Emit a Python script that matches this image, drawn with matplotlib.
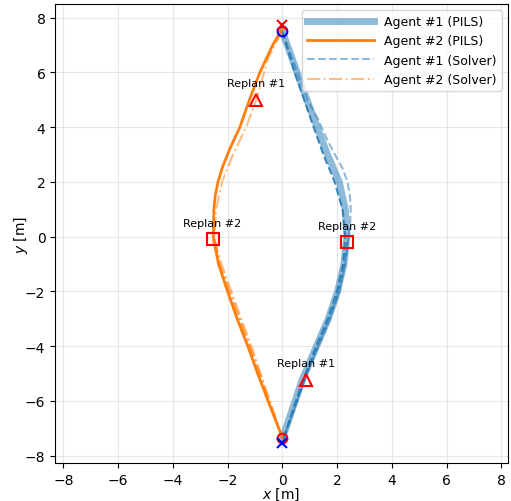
import numpy as np
import matplotlib
matplotlib.use("Agg")
import matplotlib.pyplot as plt

# agent 1 (PILS), top -> bottom
a1_y = [7.5, 6.0, 5.0, 4.3, 3.0, 2.0, 1.0, 0.0, -1.0, -2.0, -3.0, -4.0, -5.22, -6.0, -7.0, -7.4]
a1_x = [0.0, 0.54, 0.9, 1.16, 1.65, 2.08, 2.3, 2.36, 2.25, 2.02, 1.68, 1.25, 0.73, 0.47, 0.13, 0.0]

# agent 2 (PILS), bottom -> top
a2_y = [-7.35, -7.0, -6.0, -5.0, -4.0, -3.0, -2.0, -1.0, 0.0, 1.0, 1.5, 2.0, 2.56, 3.2, 4.0, 5.0, 6.0, 7.0, 7.6]
a2_x = [0.0, -0.13, -0.52, -0.9, -1.26, -1.65, -2.0, -2.33, -2.52, -2.5, -2.45, -2.35, -2.18, -1.92, -1.55, -1.2, -0.82, -0.35, 0.0]

# solver plans for agent 1
s1_y = [
    [7.5, 6.0, 5.0, 4.3, 3.0, 2.0, 1.0, 0.0, -1.0, -2.0, -3.0, -4.0, -5.0, -6.0, -7.5],
    [7.5, 6.0, 5.0, 4.3, 3.5, 3.0, 2.5, 2.0, 1.5, 1.0, 0.5, 0.0, -1.0, -2.0, -3.0, -4.0, -5.0, -6.0, -7.5],
    [-0.2, -1.0, -2.0, -3.0, -4.0, -5.0, -6.0, -7.5],
]
s1_x = [
    [0.0, 0.45, 0.8, 1.04, 1.5, 1.91, 2.2, 2.3, 2.22, 2.0, 1.66, 1.24, 0.85, 0.5, 0.0],
    [0.0, 0.55, 0.92, 1.3, 1.66, 1.92, 2.2, 2.38, 2.47, 2.5, 2.48, 2.42, 2.3, 2.06, 1.72, 1.3, 0.9, 0.54, 0.0],
    [2.37, 2.28, 2.08, 1.74, 1.32, 0.9, 0.55, 0.0],
]
s1_alpha = [0.85, 0.5, 0.6]

# solver plans for agent 2
s2_y = [
    [7.5, 6.52, 5.0, 4.0, 3.0, 2.56, 2.0, 1.0, 0.0, -1.0, -2.0, -3.0, -4.0, -5.0, -6.0, -7.35],
    [-0.1, -1.0, -2.0, -3.0, -4.0, -5.0, -6.0, -7.35],
    [-0.1, -1.0, -2.0, -3.0, -4.0, -5.0, -6.0, -7.35],
]
s2_x = [
    [0.0, -0.52, -0.95, -1.32, -1.8, -1.98, -2.2, -2.42, -2.48, -2.28, -1.92, -1.55, -1.18, -0.82, -0.48, 0.0],
    [-2.55, -2.3, -1.95, -1.58, -1.2, -0.85, -0.5, 0.0],
    [-2.5, -2.22, -1.86, -1.5, -1.13, -0.79, -0.45, 0.0],
]

# replan points
replan_tri_x = [-0.95, 0.88]
replan_tri_y = [5.0, -5.22]
replan_sq_x = [-2.55, 2.37]
replan_sq_y = [-0.1, -0.2]

fig = plt.figure(figsize=(5.11, 5.02), dpi=100)
ax = fig.add_axes([0.1076, 0.0751, 0.8865, 0.915])

ax.plot(a1_x, a1_y, color='tab:blue', alpha=0.5, lw=5, label='Agent #1 (PILS)', zorder=2)
ax.plot(a2_x, a2_y, color='tab:orange', lw=2, label='Agent #2 (PILS)', zorder=3)

for i in range(len(s1_x)):
    ax.plot(s1_x[i], s1_y[i], color='tab:blue', alpha=s1_alpha[i], ls='--', lw=1.5,
            label='Agent #1 (Solver)' if i == 1 else None, zorder=3)
for i in range(len(s2_x)):
    ax.plot(s2_x[i], s2_y[i], color='tab:orange', alpha=0.5, ls='-.', lw=1.5,
            label='Agent #2 (Solver)' if i == 0 else None, zorder=3)

# start / goal markers
ax.plot(0, 7.5, 'o', mfc='none', mec='blue', ms=7, mew=1.5, zorder=4)
ax.plot(0, 7.75, 'x', color='red', ms=7, mew=1.5, zorder=4)
ax.plot(0, -7.35, 'o', mfc='none', mec='red', ms=7, mew=1.5, zorder=4)
ax.plot(0, -7.55, 'x', color='blue', ms=7, mew=1.5, zorder=4)

ax.plot(replan_tri_x, replan_tri_y, '^', mfc='none', mec='red', ms=9, mew=1.5, ls='none', zorder=5)
ax.plot(replan_sq_x, replan_sq_y, 's', mfc='none', mec='red', ms=9, mew=1.5, ls='none', zorder=5)
for x, y in zip(replan_tri_x, replan_tri_y):
    ax.text(x, y + 0.6, 'Replan #1', fontsize=8, ha='center', va='center')
for x, y in zip(replan_sq_x, replan_sq_y):
    ax.text(x, y + 0.6, 'Replan #2', fontsize=8, ha='center', va='center')

ax.set_xlim(-8.3, 8.24)
ax.set_ylim(-8.28, 8.5)
ax.set_aspect('equal', adjustable='box')
ax.set_xticks(np.arange(-8, 9, 2))
ax.set_yticks(np.arange(-8, 9, 2))
ax.grid(True, alpha=0.3)
ax.set_xlabel('$x$ [m]', labelpad=-1)
ax.set_ylabel('$y$ [m]', labelpad=-4)
ax.legend(loc='upper right', fontsize=9, handlelength=5.4)

fig.savefig('out.png', dpi=100)
